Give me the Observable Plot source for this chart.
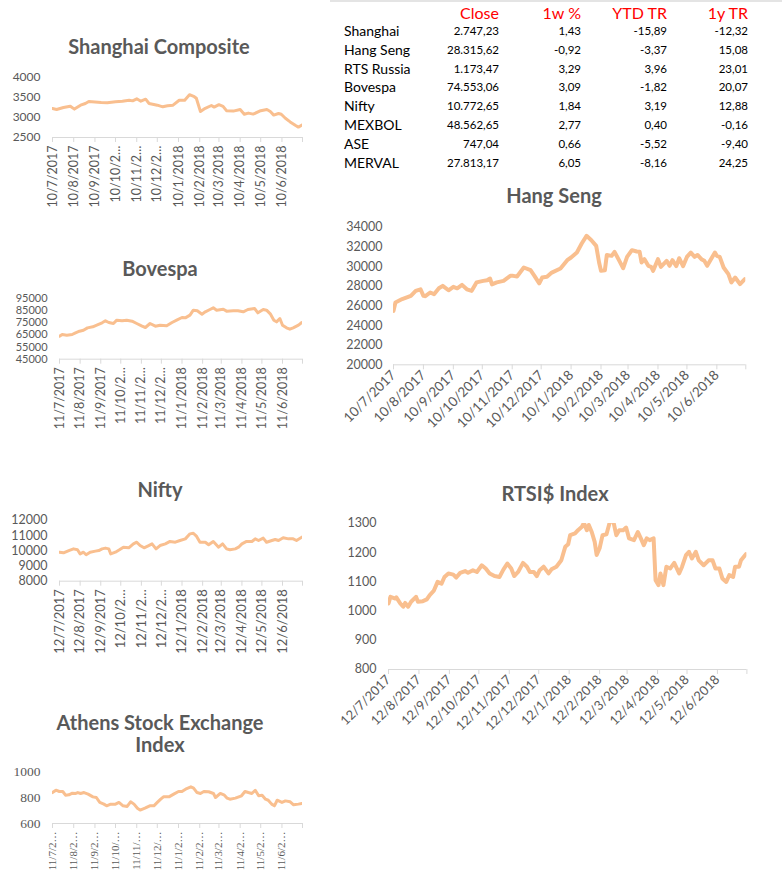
<!DOCTYPE html>
<html><head><meta charset="utf-8">
<script src="https://cdn.jsdelivr.net/npm/d3@7"></script>
<script src="https://cdn.jsdelivr.net/npm/@observablehq/plot@0.6"></script>
<style>
html,body{margin:0;padding:0;background:#fff;}
body{width:782px;height:881px;position:relative;overflow:hidden;font-family:Lato,"Open Sans",sans-serif;}
.title{position:absolute;font-weight:bold;color:#595959;font-size:20px;text-align:center;transform:translate(-50%,-50%);white-space:nowrap;line-height:22px;}
.cell{position:absolute;white-space:nowrap;line-height:18px;}
.hdr{color:#ff0000;font-size:16px;text-align:right;width:100px;}
.lbl{color:#000;font-size:14px;}
.num{color:#000;font-size:11.5px;text-align:right;width:100px;}
</style></head><body>
<script>
// ---------- table data ----------
const tableHeaders = ["Close", "1w %", "YTD TR", "1y TR"];
const tableNames = ["Shanghai", "Hang Seng", "RTS Russia", "Bovespa", "Nifty", "MEXBOL", "ASE", "MERVAL"];
const closeVals = ["2.747,23", "28.315,62", "1.173,47", "74.553,06", "10.772,65", "48.562,65", "747,04", "27.813,17"];
const weekVals = ["1,43", "-0,92", "3,29", "3,09", "1,84", "2,77", "0,66", "6,05"];
const ytdVals = ["-15,89", "-3,37", "3,96", "-1,82", "3,19", "0,40", "-5,52", "-8,16"];
const yearVals = ["-12,32", "15,08", "23,01", "20,07", "12,88", "-0,16", "-9,40", "24,25"];

// ---------- series data ----------
const shanghai = [["2017-07-10",3225],["2017-07-16",3200],["2017-07-26",3250],["2017-08-05",3283],["2017-08-11",3210],["2017-08-20",3308],["2017-08-27",3350],["2017-09-01",3400],["2017-09-10",3390],["2017-09-19",3375],["2017-09-28",3367],["2017-10-10",3395],["2017-10-20",3408],["2017-10-30",3433],["2017-11-04",3416],["2017-11-10",3467],["2017-11-16",3408],["2017-11-23",3458],["2017-11-28",3350],["2017-12-10",3308],["2017-12-18",3267],["2017-12-25",3292],["2018-01-02",3308],["2018-01-11",3430],["2018-01-19",3433],["2018-01-26",3570],["2018-02-02",3520],["2018-02-05",3480],["2018-02-11",3150],["2018-02-18",3230],["2018-02-27",3300],["2018-03-03",3260],["2018-03-10",3320],["2018-03-16",3280],["2018-03-21",3170],["2018-03-31",3160],["2018-04-10",3200],["2018-04-16",3080],["2018-04-22",3110],["2018-04-29",3085],["2018-05-10",3170],["2018-05-19",3200],["2018-05-24",3150],["2018-05-29",3060],["2018-06-05",3100],["2018-06-09",3080],["2018-06-15",2980],["2018-06-22",2890],["2018-06-30",2800],["2018-07-04",2760],["2018-07-10",2820]];
const hangSeng = [["2017-07-10",25500],["2017-07-12",26350],["2017-07-19",26700],["2017-07-28",27030],["2017-08-02",27540],["2017-08-07",27700],["2017-08-10",27030],["2017-08-12",27000],["2017-08-17",27370],["2017-08-21",27200],["2017-08-26",27800],["2017-08-30",28050],["2017-09-05",27600],["2017-09-10",27950],["2017-09-14",27800],["2017-09-19",28150],["2017-09-24",27700],["2017-09-29",27540],["2017-10-04",28400],["2017-10-11",28560],["2017-10-15",28630],["2017-10-18",28800],["2017-10-20",28200],["2017-10-25",28400],["2017-11-01",28560],["2017-11-08",29070],["2017-11-11",29070],["2017-11-15",29000],["2017-11-22",29920],["2017-11-29",29650],["2017-12-03",29070],["2017-12-08",28300],["2017-12-11",28900],["2017-12-16",28970],["2017-12-21",29400],["2017-12-30",29820],["2018-01-06",30670],["2018-01-10",30940],["2018-01-16",31450],["2018-01-21",32370],["2018-01-26",33150],["2018-01-31",32700],["2018-02-05",32130],["2018-02-08",30430],["2018-02-10",29580],["2018-02-14",29650],["2018-02-16",31200],["2018-02-21",31110],["2018-02-24",31520],["2018-03-01",30600],["2018-03-05",29850],["2018-03-09",31000],["2018-03-14",31690],["2018-03-19",31550],["2018-03-22",31520],["2018-03-24",30430],["2018-03-27",30770],["2018-03-31",30090],["2018-04-03",29990],["2018-04-05",29580],["2018-04-10",30770],["2018-04-13",29990],["2018-04-19",30600],["2018-04-22",30090],["2018-04-25",30670],["2018-04-29",30060],["2018-05-02",30870],["2018-05-06",30060],["2018-05-10",31000],["2018-05-14",31450],["2018-05-18",31000],["2018-05-21",31200],["2018-05-25",30770],["2018-05-28",30600],["2018-05-31",30090],["2018-06-03",30600],["2018-06-08",31450],["2018-06-10",31110],["2018-06-13",31000],["2018-06-17",29920],["2018-06-22",29240],["2018-06-25",28400],["2018-06-29",28900],["2018-07-04",28220],["2018-07-09",28730]];
const bovespa = [["2017-07-11",63960],["2017-07-15",65330],["2017-07-22",64780],["2017-07-30",65330],["2017-08-04",66700],["2017-08-10",68080],["2017-08-16",68900],["2017-08-22",70820],["2017-08-30",71650],["2017-09-05",73020],["2017-09-13",74950],["2017-09-18",76600],["2017-09-23",75220],["2017-09-30",74400],["2017-10-05",77140],["2017-10-13",76600],["2017-10-20",77140],["2017-10-28",76300],["2017-11-04",74400],["2017-11-12",72200],["2017-11-17",71100],["2017-11-24",74400],["2017-12-02",72200],["2017-12-09",73020],["2017-12-19",72500],["2017-12-27",75220],["2018-01-03",77140],["2018-01-11",79340],["2018-01-16",79070],["2018-01-23",81270],["2018-01-28",85390],["2018-02-03",84840],["2018-02-10",82090],["2018-02-15",84010],["2018-02-22",85930],["2018-02-27",87310],["2018-03-04",85390],["2018-03-14",86210],["2018-03-19",84570],["2018-03-29",84840],["2018-04-05",84840],["2018-04-13",84010],["2018-04-20",85930],["2018-04-30",86760],["2018-05-05",83190],["2018-05-13",85930],["2018-05-18",85390],["2018-05-24",82090],["2018-05-29",77140],["2018-06-02",75770],["2018-06-07",78520],["2018-06-11",73020],["2018-06-17",70820],["2018-06-22",69730],["2018-06-27",70820],["2018-07-05",73020],["2018-07-10",75220]];
const nifty = [["2017-07-12",9910],["2017-07-18",9870],["2017-07-26",10020],["2017-08-02",10130],["2017-08-08",10070],["2017-08-12",9800],["2017-08-17",9910],["2017-08-21",9740],["2017-08-27",9910],["2017-09-04",9980],["2017-09-09",10020],["2017-09-14",10130],["2017-09-19",10180],["2017-09-24",10130],["2017-09-27",9800],["2017-10-04",9910],["2017-10-10",10070],["2017-10-16",10240],["2017-10-24",10200],["2017-10-31",10460],["2017-11-05",10570],["2017-11-10",10350],["2017-11-16",10200],["2017-11-23",10350],["2017-11-28",10460],["2017-12-04",10130],["2017-12-10",10350],["2017-12-18",10460],["2017-12-25",10620],["2018-01-02",10570],["2018-01-09",10680],["2018-01-17",10790],["2018-01-24",11120],["2018-01-29",11160],["2018-02-03",10950],["2018-02-08",10570],["2018-02-16",10570],["2018-02-21",10400],["2018-02-28",10620],["2018-03-08",10240],["2018-03-14",10460],["2018-03-20",10130],["2018-03-25",10070],["2018-04-02",10130],["2018-04-07",10240],["2018-04-12",10460],["2018-04-19",10620],["2018-04-27",10620],["2018-05-02",10790],["2018-05-07",10680],["2018-05-14",10840],["2018-05-19",10570],["2018-05-27",10680],["2018-06-01",10750],["2018-06-06",10680],["2018-06-13",10860],["2018-06-21",10790],["2018-06-28",10790],["2018-07-03",10680],["2018-07-11",10900]];
const rtsi = [["2017-07-12",1026],["2017-07-14",1049],["2017-07-19",1043],["2017-07-20",1047],["2017-07-24",1026],["2017-07-27",1015],["2017-07-29",1028],["2017-08-01",1015],["2017-08-04",1032],["2017-08-09",1049],["2017-08-11",1032],["2017-08-16",1034],["2017-08-20",1040],["2017-08-23",1055],["2017-08-27",1069],["2017-08-31",1100],["2017-09-04",1094],["2017-09-07",1117],["2017-09-11",1129],["2017-09-16",1125],["2017-09-19",1115],["2017-09-23",1131],["2017-09-28",1137],["2017-10-01",1131],["2017-10-06",1140],["2017-10-10",1134],["2017-10-15",1157],["2017-10-19",1146],["2017-10-23",1129],["2017-10-28",1120],["2017-11-02",1117],["2017-11-06",1142],["2017-11-10",1163],["2017-11-14",1146],["2017-11-17",1120],["2017-11-21",1134],["2017-11-26",1165],["2017-11-30",1152],["2017-12-03",1134],["2017-12-07",1134],["2017-12-10",1120],["2017-12-13",1140],["2017-12-17",1152],["2017-12-22",1129],["2017-12-25",1143],["2017-12-30",1152],["2018-01-04",1174],["2018-01-08",1220],["2018-01-11",1229],["2018-01-13",1260],["2018-01-18",1266],["2018-01-21",1277],["2018-01-25",1289],["2018-01-27",1302],["2018-01-30",1277],["2018-02-01",1295],["2018-02-04",1271],["2018-02-07",1237],["2018-02-09",1192],["2018-02-12",1215],["2018-02-15",1260],["2018-02-19",1263],["2018-02-22",1300],["2018-02-25",1323],["2018-03-01",1260],["2018-03-04",1277],["2018-03-08",1277],["2018-03-11",1286],["2018-03-14",1249],["2018-03-19",1243],["2018-03-23",1271],["2018-03-26",1249],["2018-03-29",1226],["2018-04-01",1249],["2018-04-04",1243],["2018-04-08",1249],["2018-04-10",1106],["2018-04-13",1089],["2018-04-15",1129],["2018-04-18",1089],["2018-04-21",1152],["2018-04-25",1146],["2018-04-29",1165],["2018-05-04",1129],["2018-05-07",1152],["2018-05-11",1192],["2018-05-14",1203],["2018-05-17",1180],["2018-05-21",1203],["2018-05-24",1174],["2018-05-29",1157],["2018-06-03",1174],["2018-06-07",1174],["2018-06-10",1146],["2018-06-14",1146],["2018-06-17",1112],["2018-06-21",1100],["2018-06-24",1123],["2018-06-28",1117],["2018-06-30",1152],["2018-07-04",1152],["2018-07-06",1174],["2018-07-11",1195]];
const athens = [["2017-07-11",838],["2017-07-16",856],["2017-07-21",846],["2017-07-26",846],["2017-07-30",818],["2017-08-04",821],["2017-08-09",833],["2017-08-14",831],["2017-08-17",838],["2017-08-21",831],["2017-08-26",838],["2017-09-01",826],["2017-09-08",805],["2017-09-13",800],["2017-09-18",762],["2017-09-24",749],["2017-09-28",736],["2017-10-04",749],["2017-10-11",749],["2017-10-16",762],["2017-10-22",736],["2017-10-28",731],["2017-11-02",767],["2017-11-07",749],["2017-11-12",718],["2017-11-16",703],["2017-11-23",718],["2017-11-30",736],["2017-12-06",736],["2017-12-11",762],["2017-12-16",787],["2017-12-20",805],["2017-12-28",805],["2018-01-04",826],["2018-01-11",846],["2018-01-16",846],["2018-01-23",869],["2018-01-29",882],["2018-02-02",872],["2018-02-07",838],["2018-02-12",831],["2018-02-17",846],["2018-02-24",844],["2018-03-03",831],["2018-03-06",800],["2018-03-13",831],["2018-03-19",818],["2018-03-23",795],["2018-03-27",787],["2018-04-04",795],["2018-04-09",805],["2018-04-13",813],["2018-04-18",846],["2018-04-23",838],["2018-04-28",831],["2018-05-03",856],["2018-05-08",813],["2018-05-13",818],["2018-05-18",787],["2018-05-22",779],["2018-05-27",749],["2018-05-31",736],["2018-06-04",779],["2018-06-11",762],["2018-06-16",774],["2018-06-23",767],["2018-06-28",744],["2018-07-05",749],["2018-07-10",754]];

// ---------- tick labels ----------
const shanghaiTicks = ["10/7/2017","10/8/2017","10/9/2017","10/10/2…","10/11/2…","10/12/2…","10/1/2018","10/2/2018","10/3/2018","10/4/2018","10/5/2018","10/6/2018"];
const hangSengTicks = ["10/7/2017","10/8/2017","10/9/2017","10/10/2017","10/11/2017","10/12/2017","10/1/2018","10/2/2018","10/3/2018","10/4/2018","10/5/2018","10/6/2018"];
const bovespaTicks = ["11/7/2017","11/8/2017","11/9/2017","11/10/2…","11/11/2…","11/12/2…","11/1/2018","11/2/2018","11/3/2018","11/4/2018","11/5/2018","11/6/2018"];
const niftyTicks = ["12/7/2017","12/8/2017","12/9/2017","12/10/2…","12/11/2…","12/12/2…","12/1/2018","12/2/2018","12/3/2018","12/4/2018","12/5/2018","12/6/2018"];
const rtsiTicks = ["12/7/2017","12/8/2017","12/9/2017","12/10/2017","12/11/2017","12/12/2017","12/1/2018","12/2/2018","12/3/2018","12/4/2018","12/5/2018","12/6/2018"];
const athensTicks = ["11/7/2…","11/8/2…","11/9/2…","11/10/…","11/11/…","11/12/…","11/1/2…","11/2/2…","11/3/2…","11/4/2…","11/5/2…","11/6/2…"];

const lineColor = "#f9bf8f";
const textColor = "#595959";

function addTitle(text, cx, cy, size) {
  const d = document.createElement("div");
  d.className = "title";
  d.innerHTML = text;
  d.style.left = cx + "px"; d.style.top = cy + "px";
  if (size) d.style.fontSize = size + "px";
  document.body.appendChild(d);
}

function chart(o) {
  const mL = 60, mR = 14, mT = 12, mB = 95;
  const w = o.right - o.left, h = o.bottom - o.top;
  const start = new Date(o.start);
  const tickDates = o.labels.map((_, i) => d3.utcMonth.offset(start, i));
  const end = d3.utcMonth.offset(start, o.labels.length);
  const fmt = new Map(tickDates.map((d, i) => [+d, o.labels[i]]));
  const rows = o.data.map(([d, v]) => ({date: new Date(d), value: v}));
  const svg = Plot.plot({
    width: w + mL + mR, height: h + mT + mB,
    marginLeft: mL, marginRight: mR, marginTop: mT, marginBottom: mB,
    style: {fontFamily: o.font || "Lato, sans-serif", color: textColor, background: "transparent", overflow: "visible"},
    x: {type: "utc", domain: [start, end]},
    y: {domain: o.yDomain},
    marks: [
      Plot.ruleY([o.yDomain[0]], {stroke: "#d9d9d9", strokeWidth: 1}),
      Plot.axisY({ticks: o.yTicks, tickSize: 0, tickPadding: o.yPad || 12, fontSize: o.yFont, fill: textColor, tickFormat: d => String(d), label: null}),
      Plot.axisX({ticks: [...tickDates, end], tickSize: 5, tickPadding: 3, stroke: "#d9d9d9", fill: textColor, tickRotate: o.rotate, fontSize: o.xFont, tickFormat: d => fmt.get(+d) ?? "", label: null}),
      Plot.line(rows, {x: "date", y: "value", stroke: lineColor, strokeWidth: o.sw, strokeLinejoin: "round", clip: true})
    ]
  });
  svg.style.position = "absolute";
  svg.style.left = (o.left - mL) + "px";
  svg.style.top = (o.top - mT) + "px";
  document.body.appendChild(svg);
}

// ---------- table ----------
const colRight = [499, 581, 667, 748];
function cell(text, cls, x, cy, right) {
  const d = document.createElement("div");
  d.className = "cell " + cls;
  d.textContent = text;
  d.style.top = (cy - 9) + "px";
  d.style.left = (right ? x - 100 : x) + "px";
  document.body.appendChild(d);
}
const topLine = document.createElement("div");
topLine.style.cssText = "position:absolute;left:330px;top:0;width:452px;height:2px;background:#e4e4e4;";
document.body.appendChild(topLine);
tableHeaders.forEach((t, j) => cell(t, "hdr", colRight[j], 13, true));
const cols = [closeVals, weekVals, ytdVals, yearVals];
tableNames.forEach((n, i) => {
  const cy = 31 + i * 18.8;
  cell(n, "lbl", 344, cy, false);
  cols.forEach((c, j) => cell(c[i], "num", colRight[j], cy, true));
});

// ---------- charts ----------
addTitle("Shanghai Composite", 159, 46);
chart({data: shanghai, left: 52, right: 302, top: 77.3, bottom: 137.3, yDomain: [2500, 4000], yTicks: [2500, 3000, 3500, 4000], start: "2017-07-10", labels: shanghaiTicks, rotate: -90, xFont: 12.5, yFont: 12, sw: 3});

addTitle("Hang Seng", 554, 195);
chart({data: hangSeng, left: 392.7, right: 745, top: 226.7, bottom: 364, yDomain: [20000, 34000], yTicks: d3.range(20000, 34001, 2000), start: "2017-07-10", labels: hangSengTicks, rotate: -45, xFont: 13.5, yFont: 12.5, yPad: 11, sw: 4});

addTitle("Bovespa", 160, 268);
chart({data: bovespa, left: 59, right: 302, top: 298.3, bottom: 359, yDomain: [45000, 95000], yTicks: d3.range(45000, 95001, 10000), start: "2017-07-11", labels: bovespaTicks, rotate: -90, xFont: 12.5, yFont: 11, yPad: 12, sw: 3});

addTitle("Nifty", 160, 489);
chart({data: nifty, left: 59, right: 302, top: 520, bottom: 580.7, yDomain: [8000, 12000], yTicks: d3.range(8000, 12001, 1000), start: "2017-07-12", labels: niftyTicks, rotate: -90, xFont: 13, yFont: 12.5, yPad: 12, sw: 3});

addTitle("RTSI$ Index", 555, 493);
chart({data: rtsi, left: 388.3, right: 746.7, top: 523.3, bottom: 669.3, yDomain: [800, 1300], yTicks: d3.range(800, 1301, 100), start: "2017-07-12", labels: rtsiTicks, rotate: -45, xFont: 13, yFont: 12.5, yPad: 12, sw: 4});

addTitle("Athens Stock Exchange<br>Index", 160, 733);
chart({data: athens, left: 51.7, right: 301.7, top: 770.7, bottom: 822.7, yDomain: [600, 1000], yTicks: [600, 800, 1000], start: "2017-07-11", labels: athensTicks, rotate: -90, xFont: 11, yFont: 13.5, yPad: 12, sw: 3, font: "'Liberation Serif', serif"});
</script>
</body></html>
